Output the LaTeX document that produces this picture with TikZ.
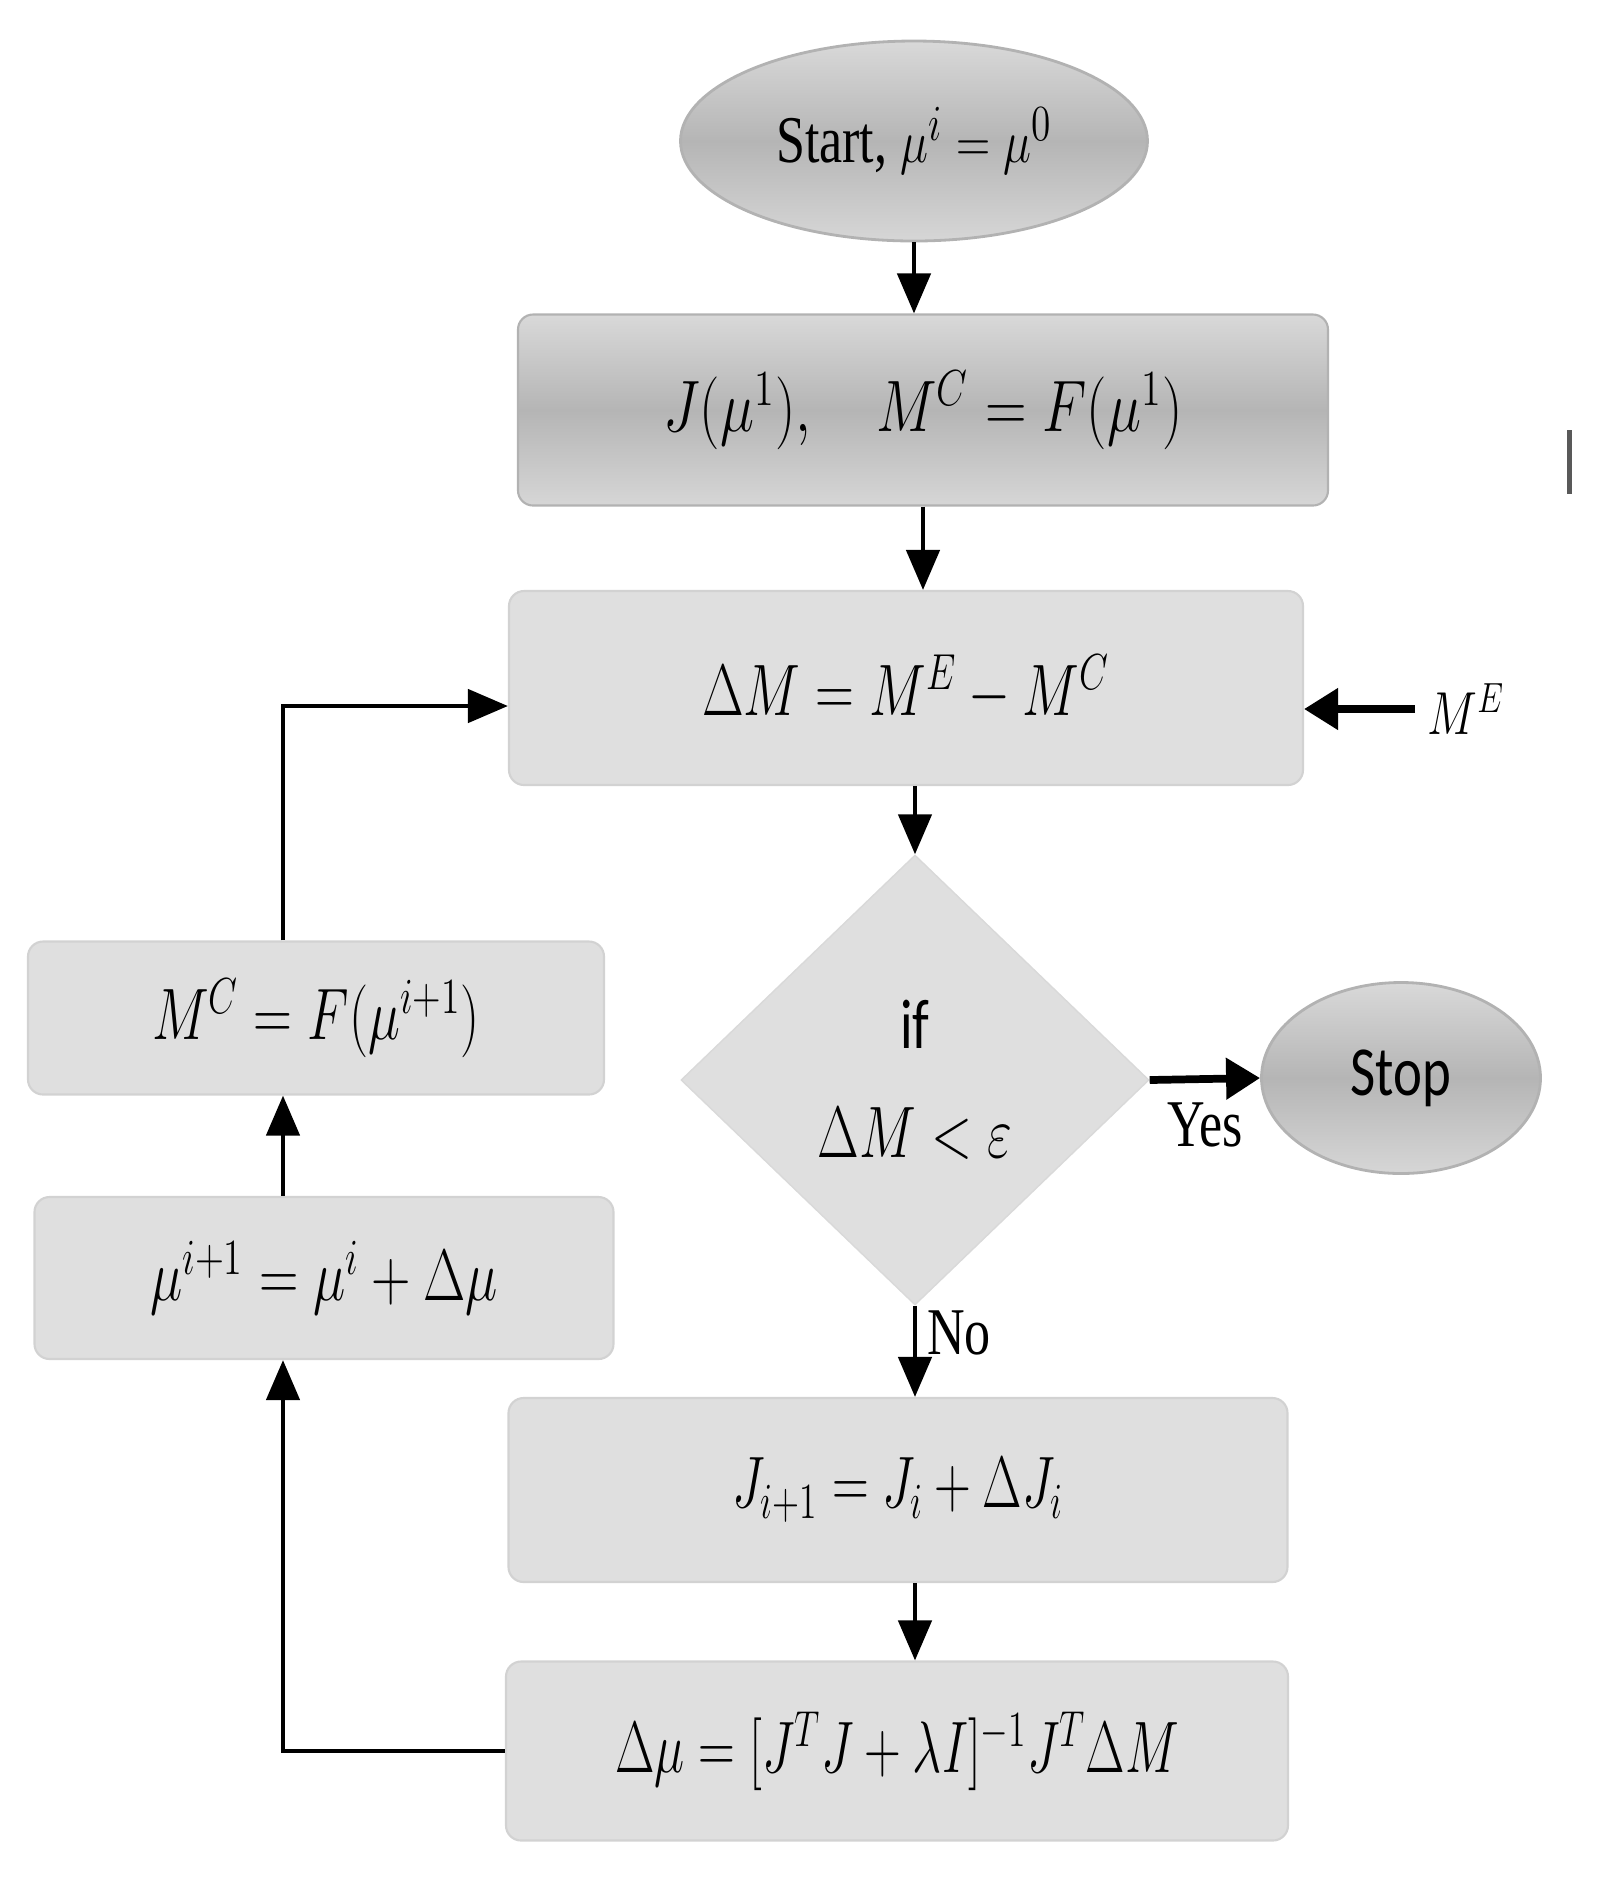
\documentclass[tikz,border=0pt]{standalone}
\usepackage{fontspec}
\setmainfont{Liberation Serif}
\newfontfamily\calibri{Carlito}
\usepackage{graphicx}
\usetikzlibrary{shapes.geometric,arrows.meta}
\newcommand{\sq}[2][0.78]{\scalebox{#1}[1]{#2}}

\begin{document}
\begin{tikzpicture}[x=0.1mm,y=-0.1mm,
        box/.style={rectangle,rounded corners=1.5mm,fill=gray!25,draw=gray!35,line width=0.6pt,
            inner sep=0pt,font=\fontsize{20}{24}\selectfont},
        darkbox/.style={box,draw=gray!60,top color=gray!30,bottom color=gray!32,middle color=gray!58},
        term/.style={ellipse,draw=gray!60,line width=0.8pt,top color=gray!30,bottom color=gray!32,
            middle color=gray!58,inner sep=0pt,font=\fontsize{20}{24}\selectfont},
        test/.style={diamond,fill=gray!25,draw=gray!30,inner sep=0pt,align=center,
            font=\fontsize{20}{24}\selectfont},
        arr/.style={-{Triangle[length=4mm,width=3.3mm]},line width=1.3pt},
        bigarr/.style={-{Triangle[length=3.4mm,width=4mm]},line width=2.2pt}]

    \useasboundingbox (0,0) rectangle (1619,1899);

    % main column
    \node[term,minimum width=46.7mm,minimum height=20mm] (start) at (914,141)
        {\sq{\fontsize{19}{23}\selectfont Start, $\mu^{i}=\mu^{0}$}};
    \node[darkbox,minimum width=81mm,minimum height=19.1mm] (jac) at (923,410)
        {\sq[0.79]{$J(\mu^{1}),\quad M^{C}=F(\mu^{1})$}};
    \node[box,minimum width=79.4mm,minimum height=19.4mm] (dm) at (906,688)
        {\sq[0.74]{$\Delta M=M^{E}-M^{C}$}};
    \node[test,minimum width=46.8mm,minimum height=45mm] (cond) at (915,1080)
        {{\calibri\sq{if}}\\[2.5mm]\sq[0.74]{$\Delta M<\varepsilon$}};
    \node[term,minimum width=27.9mm,minimum height=19.1mm] (stop) at (1401,1078) {\calibri\sq{Stop}};
    \node[box,minimum width=77.9mm,minimum height=18.4mm] (jup) at (898,1490)
        {\sq[0.70]{$J_{i+1}=J_{i}+\Delta J_{i}$}};
    \node[box,minimum width=78.2mm,minimum height=17.9mm] (dmu) at (897,1751)
        {\sq[0.70]{$\Delta\mu=[J^{T}J+\lambda I]^{-1}J^{T}\Delta M$}};

    % left column
    \node[box,minimum width=57.9mm,minimum height=16.2mm] (mup) at (324,1278)
        {\sq[0.75]{$\mu^{i+1}=\mu^{i}+\Delta\mu$}};
    \node[box,minimum width=57.6mm,minimum height=15.3mm] (mc) at (316,1018)
        {\sq[0.74]{$M^{C}=F(\mu^{i+1})$}};

    \node[font=\fontsize{17}{20}\selectfont] (me) at (1466,709) {\sq{$M^{E}$}};
    \coordinate (loop) at (283,0);

    \draw[arr] (start.south) -- (start.south |- jac.north);
    \draw[arr] (jac.south) -- (jac.south |- dm.north);
    \draw[arr] (dm.south -| cond.north) -- (cond.north);
    \draw[bigarr] (cond.east) -- node[below=2mm,inner sep=0pt,font=\fontsize{19}{22}\selectfont] {\sq{Yes}} (stop.west);
    \draw[arr] (cond.south) -- node[right=1mm,pos=0.3,inner sep=0pt,font=\fontsize{19}{22}\selectfont] {\sq{No}}
        (cond.south |- jup.north);
    \draw[arr] (jup.south -| cond.south) -- (dmu.north -| cond.south);
    \draw[bigarr] (me.west) -- (me.west -| dm.east);

    % feedback loop
    \draw[arr] (dmu.west) -| (mup.south -| loop);
    \draw[arr] (mup.north -| loop) -- (mc.south -| loop);
    \draw[arr] (mc.north -| loop) |- ([yshift=-1.8mm]dm.west);

    \draw[black!65,line width=0.5mm] (1569,430) -- (1569,494);
\end{tikzpicture}
\end{document}
